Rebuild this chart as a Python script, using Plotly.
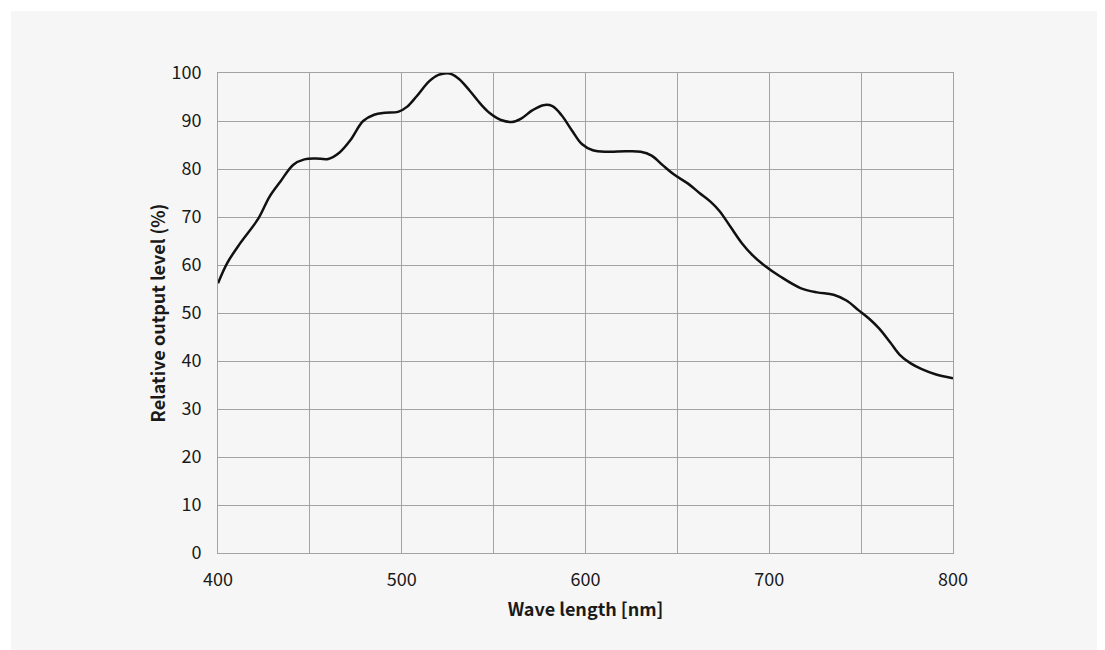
import plotly.graph_objects as go

wavelength = [400, 405, 412, 422, 428, 434, 441, 447, 453, 460, 466, 472, 479, 485, 491, 498,
              503, 508, 515, 520, 526, 531, 537, 543, 548, 554, 560, 565, 571, 577, 582, 587,
              593, 598, 604, 612, 622, 630, 636, 642, 648, 656, 662, 668, 673, 679, 685, 691,
              697, 706, 717, 726, 735, 742, 748.5, 755, 760, 766, 771, 777, 783, 790, 800]
output_level = [56.2, 60.4, 64.5, 69.7, 74.2, 77.4, 80.9, 82.0, 82.2, 82.1, 83.4, 86.0, 90.0, 91.3, 91.7, 91.9,
                93.0, 95.1, 98.3, 99.6, 99.9, 98.8, 96.3, 93.5, 91.6, 90.2, 89.8, 90.5, 92.2, 93.3, 93.1, 91.2,
                87.8, 85.2, 83.9, 83.6, 83.7, 83.6, 82.8, 80.8, 78.9, 76.9, 75.0, 73.2, 71.2, 67.9, 64.6, 62.0,
                60.0, 57.6, 55.2, 54.3, 53.8, 52.6, 50.6, 48.6, 46.7, 43.8, 41.3, 39.5, 38.3, 37.3, 36.4]

x_ticks = [400, 500, 600, 700, 800]
y_ticks = [0, 10, 20, 30, 40, 50, 60, 70, 80, 90, 100]

FONT = "Noto Sans CJK JP"
BG = "#f6f6f6"
GRID = "#a3a3a3"

fig = go.Figure()
fig.add_trace(go.Scatter(
    x=wavelength, y=output_level, mode="lines",
    line=dict(color="#111111", width=2.5, shape="spline", smoothing=1.0),
    hoverinfo="x+y", showlegend=False,
))

# page renders with an 8px body offset
W, H = 1097, 642
ml, mr, mt, mb = 210, 152, 65, 97
pw, ph = W - ml - mr, H - mt - mb

def px_x(p):
    return (p - ml) / pw

def px_y(p):
    return (H - mb - p) / ph

fig.update_layout(
    width=W, height=H,
    margin=dict(l=ml, r=mr, t=mt, b=mb, pad=0),
    paper_bgcolor=BG, plot_bgcolor=BG,
    font=dict(family=FONT, size=18, color="#1a1a1a"),
    shapes=[
        dict(type="rect", xref="paper", yref="paper", x0=px_x(-5), x1=px_x(3),
             y0=px_y(H + 5), y1=px_y(-5), fillcolor="white", line=dict(width=0), layer="below"),
        dict(type="rect", xref="paper", yref="paper", x0=px_x(-5), x1=px_x(W + 5),
             y0=px_y(3), y1=px_y(-5), fillcolor="white", line=dict(width=0), layer="below"),
    ],
    xaxis=dict(
        range=[400, 800], tickvals=x_ticks, showgrid=True, gridcolor=GRID, gridwidth=1,
        minor=dict(dtick=50, tick0=400, showgrid=True, gridcolor=GRID, gridwidth=1),
        showline=True, linecolor=GRID, linewidth=1, mirror=True, zeroline=False,
        ticks="", ticklabelstandoff=10,
        title=dict(text="<b>Wave length [nm]</b>", standoff=13, font=dict(size=18)),
        tickfont=dict(size=18),
    ),
    yaxis=dict(
        range=[0, 100], tickvals=y_ticks, showgrid=True, gridcolor=GRID, gridwidth=1,
        showline=True, linecolor=GRID, linewidth=1, mirror=True, zeroline=False,
        ticks="", ticklabelstandoff=12,
        title=dict(text="<b>Relative output level (%)</b>", standoff=1, font=dict(size=18)),
        tickfont=dict(size=18),
    ),
)

fig.write_html("out.html")
